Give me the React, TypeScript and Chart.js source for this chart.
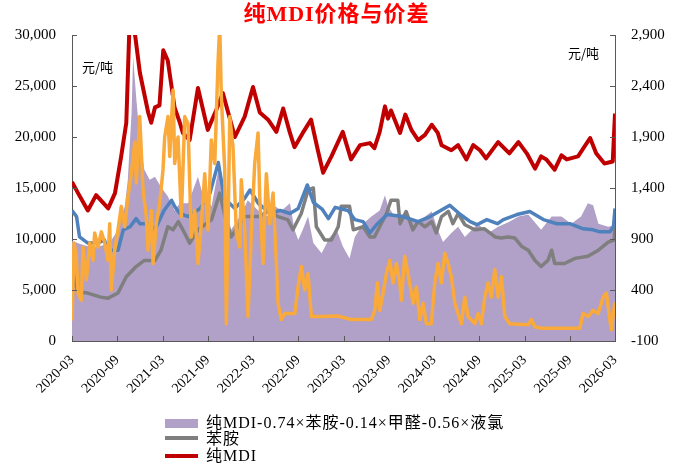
import React, { useEffect, useRef } from "react";
import { Chart, registerables } from "chart.js";

Chart.register(...registerables);

// x positions are months elapsed since 2020-03
const tickLabels = [
  "2020-03", "2020-09", "2021-03", "2021-09", "2022-03", "2022-09", "2023-03",
  "2023-09", "2024-03", "2024-09", "2025-03", "2025-09", "2026-03",
];

const legendLabels = ["纯MDI-0.74×苯胺-0.14×甲醛-0.56×液氯", "苯胺", "纯MDI"];

// 纯MDI (left axis)
const mdiMonth = [0, 0.8, 2.1, 3.2, 4.8, 5.7, 6.5, 7.2, 7.6, 8.0, 8.4, 9.0, 10.1, 10.5, 11.0, 11.6, 12.1, 12.7, 13.6, 14.3, 14.7, 15.6, 16.7, 18.0, 19.1, 20.0, 21.6, 22.9, 24.0, 24.9, 26.0, 27.1, 28.0, 28.9, 29.5, 30.6, 31.7, 32.6, 33.3, 34.4, 35.9, 37.0, 38.2, 39.5, 40.1, 40.8, 41.5, 41.9, 42.3, 43.5, 44.2, 45.0, 45.9, 46.8, 47.7, 48.5, 49.0, 50.3, 51.2, 52.3, 53.2, 54.1, 54.9, 56.5, 58.0, 59.2, 60.3, 61.4, 62.2, 62.9, 64.0, 64.9, 65.6, 67.1, 68.7, 69.5, 70.6, 71.7, 72.0];
const mdiPrice = [15600, 14500, 12800, 14300, 13000, 14500, 18000, 21400, 30500, 31500, 29800, 26300, 22400, 21400, 22900, 23100, 28500, 27500, 22900, 21400, 20400, 19700, 24800, 20700, 22600, 24300, 20000, 22000, 24900, 22400, 21700, 20500, 22800, 20400, 19000, 20400, 21700, 18700, 16500, 18100, 20500, 17800, 19200, 19400, 18900, 20500, 23000, 21800, 22600, 20400, 22200, 20700, 19700, 20200, 21200, 20400, 19200, 18700, 19200, 17800, 19200, 18700, 17900, 19500, 18400, 19500, 18400, 16900, 18100, 17800, 16800, 18200, 17800, 18100, 19900, 18400, 17400, 17600, 22300];

// 苯胺 (left axis)
const anilineMonth = [0, 0.3, 0.8, 2.1, 3.8, 4.8, 6.1, 7.2, 8.5, 9.6, 11.0, 11.8, 12.7, 13.4, 14.1, 14.7, 15.6, 16.7, 18.5, 19.6, 20.3, 21.1, 22.0, 22.9, 24.7, 26.0, 27.3, 28.6, 29.3, 30.4, 31.3, 32.0, 32.4, 33.5, 34.4, 35.3, 35.7, 36.8, 37.3, 38.6, 39.5, 40.1, 41.0, 41.7, 42.3, 43.2, 43.5, 44.3, 45.2, 45.9, 46.8, 47.7, 48.3, 49.0, 49.9, 50.5, 51.2, 52.1, 53.4, 54.7, 56.1, 56.9, 57.8, 58.7, 59.6, 60.5, 61.4, 62.2, 63.1, 63.6, 64.0, 65.3, 66.7, 68.4, 69.8, 71.1, 71.9, 72.0];
const anilinePrice = [7300, 6000, 4800, 4700, 4300, 4200, 4700, 6300, 7300, 7900, 7900, 8900, 11200, 10900, 11700, 10900, 9600, 10900, 11900, 14500, 12200, 10200, 11200, 12200, 12200, 12700, 12200, 11900, 10900, 12500, 14800, 15000, 11200, 9900, 9900, 11200, 13200, 13200, 10900, 11200, 10200, 10200, 11500, 12500, 13800, 13800, 11500, 12700, 10900, 11700, 11200, 11700, 10600, 12200, 12700, 11500, 12500, 11400, 10900, 11000, 10200, 10100, 10200, 10100, 9300, 8900, 7900, 7300, 7900, 8900, 7600, 7600, 8100, 8300, 8900, 9700, 9900, 11800];

// 价差 (left axis, area)
const spreadMonth = [0, 1.1, 2.5, 3.7, 5.0, 6.1, 7.0, 7.4, 7.9, 8.1, 8.5, 9.0, 9.6, 10.3, 11.0, 11.8, 12.7, 13.6, 14.3, 15.4, 16.7, 17.4, 18.5, 19.4, 20.3, 21.1, 22.5, 23.3, 24.7, 26.0, 26.9, 27.8, 28.9, 29.5, 30.0, 30.6, 31.3, 32.0, 33.1, 34.2, 35.1, 35.9, 36.8, 37.5, 38.6, 39.7, 40.8, 41.5, 41.9, 42.8, 44.6, 45.9, 47.7, 48.5, 49.2, 50.3, 51.2, 52.1, 53.8, 55.2, 56.5, 58.0, 59.2, 60.5, 62.2, 63.6, 64.9, 66.2, 67.5, 68.4, 69.1, 69.8, 71.1, 72.0];
const spreadValue = [9800, 9500, 9200, 9300, 9600, 10900, 13200, 15800, 22400, 27900, 24000, 19700, 16800, 15800, 16100, 15100, 14200, 12800, 13500, 13500, 16100, 14200, 13200, 16800, 13500, 10900, 12500, 13800, 12800, 12200, 13200, 12800, 13500, 10900, 9900, 10900, 12200, 9600, 8600, 10200, 10900, 9300, 8100, 10200, 11500, 12200, 12800, 14300, 13200, 12200, 12000, 11700, 12700, 10900, 9700, 10600, 11200, 10200, 11500, 10600, 11200, 11700, 12200, 12400, 10900, 12200, 12200, 11500, 12200, 13500, 13300, 11500, 11200, 11400];

// 甲醛 (right axis)
const formalMonth = [0, 0.6, 1.0, 2.1, 3.4, 4.3, 4.8, 6.1, 6.8, 7.7, 8.5, 9.0, 10.1, 11.0, 12.2, 13.2, 13.6, 14.3, 15.4, 17.0, 18.3, 19.4, 20.2, 21.6, 22.9, 23.6, 24.7, 26.3, 27.6, 28.9, 30.0, 31.2, 32.0, 33.2, 34.0, 34.9, 36.6, 37.5, 38.6, 39.5, 40.5, 41.8, 43.9, 45.9, 47.5, 50.1, 51.5, 52.8, 53.7, 55.0, 56.4, 57.2, 59.0, 60.7, 62.5, 64.3, 66.0, 67.8, 69.1, 70.0, 71.3, 71.8, 72.0];
const formalPrice = [1180, 1120, 920, 860, 860, 890, 790, 790, 990, 1020, 1100, 1050, 1050, 990, 1180, 1280, 1220, 1150, 1120, 1200, 1350, 1650, 1300, 1200, 1300, 1380, 1250, 1150, 1180, 1150, 1200, 1430, 1260, 1190, 1100, 1210, 1180, 1090, 1070, 960, 1050, 1140, 1120, 1070, 1120, 1230, 1140, 1070, 1040, 1090, 1050, 1090, 1140, 1170, 1090, 1050, 1050, 1000, 990, 970, 970, 1020, 1200];

// 液氯 (right axis)
const chlorineMonth = [0, 0.27, 0.57, 0.8, 1.23, 1.46, 1.9, 2.35, 2.79, 3.01, 3.45, 3.89, 4.34, 4.77, 5.0, 5.21, 5.66, 6.1, 6.54, 6.99, 7.43, 7.86, 8.32, 8.53, 8.98, 9.42, 9.85, 10.08, 10.52, 10.74, 11.18, 11.63, 12.07, 12.29, 12.73, 12.96, 13.4, 13.62, 14.06, 14.5, 14.95, 15.38, 15.82, 16.27, 16.71, 17.15, 17.6, 18.04, 18.47, 18.93, 19.36, 19.59, 19.8, 20.25, 20.46, 20.69, 20.92, 21.35, 21.79, 22.24, 22.45, 22.9, 23.34, 23.78, 24.23, 24.67, 24.89, 25.33, 25.77, 26.22, 26.66, 27.1, 27.32, 27.76, 28.21, 29.54, 29.97, 30.41, 30.86, 31.3, 31.74, 33.06, 35.28, 37.04, 39.69, 40.15, 40.49, 40.81, 41.25, 41.68, 42.14, 42.57, 43.01, 43.46, 43.67, 44.12, 44.56, 45.23, 45.66, 46.11, 46.55, 46.99, 47.65, 48.1, 48.54, 48.98, 49.43, 49.87, 50.3, 50.76, 51.19, 51.63, 52.08, 52.52, 53.41, 53.85, 54.28, 54.73, 55.17, 55.61, 56.06, 56.5, 56.94, 57.39, 58.05, 60.48, 60.92, 61.37, 62.24, 67.33, 67.77, 68.44, 69.1, 69.76, 70.42, 70.86, 71.31, 71.52, 71.97];
const chlorinePrice = [100, 860, 730, 370, 300, 820, 500, 860, 690, 960, 820, 970, 860, 690, 1050, 400, 790, 990, 1220, 1020, 1320, 1540, 1850, 1450, 2100, 1380, 1120, 790, 1180, 660, 1050, 1250, 1580, 1900, 2100, 1710, 2360, 1640, 1900, 1120, 2100, 2030, 920, 1180, 660, 1050, 1540, 990, 1870, 1640, 2620, 3000, 2300, 1580, 70, 990, 2100, 1800, 960, 820, 1480, 990, 140, 960, 1640, 1940, 1320, 660, 1540, 1050, 1350, 660, 270, 110, 170, 170, 430, 630, 400, 560, 140, 140, 145, 110, 110, 200, 470, 200, 370, 560, 690, 470, 660, 470, 300, 730, 560, 270, 430, 110, 270, 70, 70, 470, 660, 470, 760, 660, 530, 270, 170, 70, 330, 140, 70, 170, 70, 330, 470, 330, 600, 330, 530, 140, 70, 60, 110, 40, 25, 25, 170, 140, 200, 170, 330, 370, 110, 10, 280];

const RED = "#C00000";
const GRAY = "#7F7F7F";
const BLUE = "#4F81BD";
const ORANGE = "#FAA93B";
const PURPLE = "#B1A0C7";
const AXIS = "#595959";
const SERIF = "'Liberation Serif', 'Noto Sans CJK SC', serif";

const pts = (xs: number[], ys: number[]) => xs.map((x, i) => ({ x, y: ys[i] }));

const insideTicks = {
  id: "insideTicks",
  afterDraw(chart: any) {
    const { ctx, chartArea: a, scales } = chart;
    ctx.save();
    ctx.strokeStyle = AXIS;
    ctx.lineWidth = 1;
    ctx.beginPath();
    scales.x.ticks.forEach((t: any) => {
      const px = Math.round(scales.x.getPixelForValue(t.value)) + 0.5;
      ctx.moveTo(px, a.bottom);
      ctx.lineTo(px, a.bottom - 5);
    });
    scales.yL.ticks.forEach((t: any) => {
      const py = Math.round(scales.yL.getPixelForValue(t.value)) + 0.5;
      ctx.moveTo(a.left, py);
      ctx.lineTo(a.left + 5, py);
    });
    scales.yR.ticks.forEach((t: any) => {
      const py = Math.round(scales.yR.getPixelForValue(t.value)) + 0.5;
      ctx.moveTo(a.right, py);
      ctx.lineTo(a.right - 5, py);
    });
    ctx.stroke();
    ctx.restore();
  },
};

const lineDs = (label: string, xs: number[], ys: number[], color: string, axis: string, order: number, width = 3.5) => ({
  label,
  data: pts(xs, ys),
  yAxisID: axis,
  borderColor: color,
  backgroundColor: color,
  borderWidth: width,
  pointRadius: 0,
  tension: 0,
  fill: false,
  order,
  borderJoinStyle: "round" as const,
});

export default function App() {
  const ref = useRef<HTMLCanvasElement>(null);

  useEffect(() => {
    const chart = new Chart(ref.current as HTMLCanvasElement, {
      type: "line",
      data: {
        datasets: [
          lineDs("液氯", chlorineMonth, chlorinePrice, ORANGE, "yR", 0),
          lineDs(legendLabels[2], mdiMonth, mdiPrice, RED, "yL", 1, 4),
          lineDs("甲醛", formalMonth, formalPrice, BLUE, "yR", 2),
          lineDs(legendLabels[1], anilineMonth, anilinePrice, GRAY, "yL", 3),
          {
            label: legendLabels[0],
            data: pts(spreadMonth, spreadValue),
            yAxisID: "yL",
            borderWidth: 0,
            borderColor: PURPLE,
            backgroundColor: PURPLE,
            pointRadius: 0,
            tension: 0,
            fill: "origin",
            order: 4,
          },
        ],
      },
      plugins: [insideTicks],
      options: {
        animation: false,
        responsive: true,
        maintainAspectRatio: false,
        layout: { padding: { top: 35, left: 0, right: 0, bottom: 0 } },
        plugins: {
          legend: { display: false },
          title: { display: false },
          tooltip: { enabled: false },
        },
        scales: {
          x: {
            type: "linear",
            min: 0,
            max: 72,
            position: "bottom",
            z: 1,
            grid: { display: true, drawOnChartArea: false, drawTicks: false },
            border: { display: true, color: AXIS, width: 1 },
            ticks: {
              stepSize: 6,
              autoSkip: false,
              minRotation: 45,
              maxRotation: 45,
              padding: 11,
              color: "#000",
              font: { family: SERIF, size: 14 },
              callback: (v: any) => tickLabels[Math.round(Number(v) / 6)] ?? "",
            },
            afterFit: (s: any) => {
              s.height = 126;
            },
          },
          yL: {
            type: "linear",
            position: "left",
            min: 0,
            max: 30000,
            z: 1,
            grid: { display: true, drawOnChartArea: false, drawTicks: false },
            border: { display: true, color: AXIS, width: 1 },
            ticks: {
              stepSize: 5000,
              padding: 16,
              color: "#000",
              font: { family: SERIF, size: 15 },
              callback: (v: any) => Number(v).toLocaleString("en-US"),
            },
            afterFit: (s: any) => {
              s.width = 72;
            },
          },
          yR: {
            type: "linear",
            position: "right",
            min: -100,
            max: 2900,
            z: 1,
            grid: { display: true, drawOnChartArea: false, drawTicks: false },
            border: { display: true, color: AXIS, width: 1 },
            ticks: {
              stepSize: 500,
              padding: 16,
              color: "#000",
              font: { family: SERIF, size: 15 },
              callback: (v: any) => Number(v).toLocaleString("en-US"),
            },
            afterFit: (s: any) => {
              s.width = 66;
            },
          },
        },
      },
    });
    return () => chart.destroy();
  }, []);

  const textStyle: React.CSSProperties = {
    position: "absolute",
    fontFamily: SERIF,
    fontSize: 16,
    color: "#000",
    whiteSpace: "nowrap",
    lineHeight: "18px",
    height: 18,
  };

  return (
    <div style={{ position: "absolute", left: 0, top: 0, width: 681, height: 467, background: "#fff" }}>
      <canvas ref={ref} style={{ position: "absolute", left: 0, top: 0 }} />
      <div
        style={{
          position: "absolute",
          left: 0,
          top: 1,
          width: 673,
          textAlign: "center",
          fontFamily: SERIF,
          fontWeight: "bold",
          fontSize: 22,
          lineHeight: "26px",
          color: "#FF0000",
          letterSpacing: 1,
        }}
      >
        纯MDI价格与价差
      </div>
      <div style={{ ...textStyle, left: 82, top: 58, fontSize: 13, fontFamily: "'Noto Sans CJK SC', sans-serif" }}>元/吨</div>
      <div style={{ ...textStyle, left: 568, top: 44, fontSize: 13, fontFamily: "'Noto Sans CJK SC', sans-serif" }}>元/吨</div>

      <div style={{ position: "absolute", left: 165, top: 419, width: 33, height: 9, background: PURPLE }} />
      <div style={{ ...textStyle, left: 206, top: 414, letterSpacing: 1 }}>{legendLabels[0]}</div>
      <div style={{ position: "absolute", left: 165, top: 436, width: 33, height: 4, background: GRAY }} />
      <div style={{ ...textStyle, left: 206, top: 430, letterSpacing: 1 }}>{legendLabels[1]}</div>
      <div style={{ position: "absolute", left: 165, top: 454, width: 33, height: 4, background: RED }} />
      <div style={{ ...textStyle, left: 206, top: 447, letterSpacing: 1 }}>{legendLabels[2]}</div>
    </div>
  );
}
